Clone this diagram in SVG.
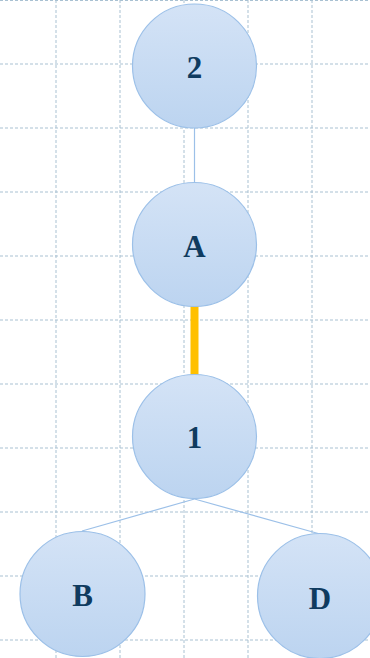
<svg xmlns="http://www.w3.org/2000/svg" width="370" height="658" viewBox="0 0 370 658">
  <defs>
    <linearGradient id="nodeFill" x1="0" y1="0" x2="0" y2="1">
      <stop offset="0" stop-color="#d4e3f6"/>
      <stop offset="1" stop-color="#bcd4f0"/>
    </linearGradient>
    <style>
      .grid line { stroke: #a9c1d2; stroke-width: 1; stroke-dasharray: 3 2; }
      .node circle { fill: url(#nodeFill); stroke: #9cc0e8; stroke-width: 1.2; }
      .node text { font-weight: bold; font-size: 31px; fill: #0f3b5f; text-anchor: middle; }
      .edge { stroke: #9cc0e8; stroke-width: 1.2; fill: none; }
      .edge-bold { stroke: #ffc000; stroke-width: 8; fill: none; }
    </style>
  </defs>
  <rect width="370" height="658" fill="#ffffff"/>

  <!-- background grid -->
  <g class="grid">
    <line x1="56" y1="0" x2="56" y2="658"/>
    <line x1="120" y1="0" x2="120" y2="658"/>
    <line x1="184" y1="0" x2="184" y2="658"/>
    <line x1="248" y1="0" x2="248" y2="658"/>
    <line x1="312" y1="0" x2="312" y2="658"/>
    <line x1="0" y1="0.5" x2="370" y2="0.5"/>
    <line x1="0" y1="64" x2="370" y2="64"/>
    <line x1="0" y1="128" x2="370" y2="128"/>
    <line x1="0" y1="192" x2="370" y2="192"/>
    <line x1="0" y1="256" x2="370" y2="256"/>
    <line x1="0" y1="320" x2="370" y2="320"/>
    <line x1="0" y1="384" x2="370" y2="384"/>
    <line x1="0" y1="448" x2="370" y2="448"/>
    <line x1="0" y1="512" x2="370" y2="512"/>
    <line x1="0" y1="576" x2="370" y2="576"/>
    <line x1="0" y1="640" x2="370" y2="640"/>
  </g>

  <!-- connectors -->
  <g id="edges">
    <line class="edge" x1="194.5" y1="128" x2="194.5" y2="183"/>
    <line class="edge-bold" x1="194.5" y1="306" x2="194.5" y2="375"/>
    <line class="edge" x1="194.5" y1="499" x2="82" y2="531"/>
    <line class="edge" x1="194.5" y1="499" x2="320" y2="534"/>
  </g>

  <!-- nodes -->
  <g font-family="'Liberation Serif', 'Times New Roman', serif">
    <g id="node-2" class="node">
      <circle cx="194.5" cy="66" r="62"/>
      <text x="194.5" y="78">2</text>
    </g>
    <g id="node-A" class="node">
      <circle cx="194.5" cy="244.5" r="62"/>
      <text x="194.5" y="257">A</text>
    </g>
    <g id="node-1" class="node">
      <circle cx="194.5" cy="436.5" r="62"/>
      <text x="194.5" y="448">1</text>
    </g>
    <g id="node-B" class="node">
      <circle cx="82.5" cy="594" r="62.5"/>
      <text x="82.5" y="606">B</text>
    </g>
    <g id="node-D" class="node">
      <circle cx="320" cy="596" r="62.5"/>
      <text x="320" y="609">D</text>
    </g>
  </g>
</svg>
